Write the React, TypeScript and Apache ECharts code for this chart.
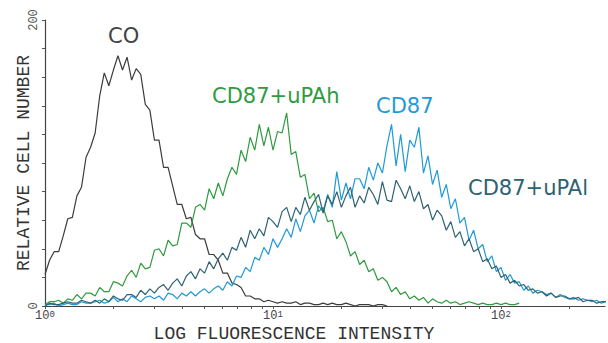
import React, { useEffect, useRef } from "react";
import * as echarts from "echarts";

// Channel spacing on the log axis (decades per channel)
const CHANNEL_DECADES = 0.02;

const xTickValues = [1, 2, 3, 4, 5, 6, 7, 8, 9, 10, 20, 30, 40, 50, 60, 70, 80, 90, 100, 200];
const xLabelValues = [1, 10, 100];
const xLabelTexts: Record<number, string> = { 1: "0", 10: "1", 100: "2" };
const yLabelValues = [0, 200];

const coCounts = [
  22, 32, 38, 38, 49, 61, 62, 77, 83, 104, 111, 121, 147, 163, 154, 165, 175, 165, 174, 158,
  166, 162, 141, 137, 116, 116, 97, 97, 84, 71, 71, 61, 62, 50, 47, 47, 36, 36, 32, 23,
  23, 16, 15, 13, 7, 7, 5, 5, 3, 4, 3, 2, 3, 2, 2, 3, 1, 2, 2, 1,
  1, 2, 1, 2, 1, 1, 2, 1, 0, 1, 1, 1, 0, 1, 1, 0,
];

const uPAhCounts = [
  1, 3, 3, 4, 2, 5, 4, 8, 5, 9, 9, 7, 13, 10, 10, 17, 16, 14, 21, 25,
  20, 30, 26, 27, 39, 40, 35, 46, 42, 43, 58, 58, 55, 69, 71, 67, 82, 75, 86, 77,
  89, 97, 92, 109, 101, 118, 109, 127, 112, 125, 109, 122, 121, 135, 106, 108, 90, 92, 75, 79,
  66, 69, 59, 60, 47, 52, 45, 35, 38, 29, 32, 24, 26, 18, 20, 17, 10, 13, 8, 10,
  5, 7, 4, 6, 2, 5, 3, 2, 4, 2, 3, 1, 2, 3, 2, 1, 2, 1, 1, 2,
  1, 2, 1, 1, 2,
];

const cd87Counts = [
  1, 1, 2, 0, 1, 2, 1, 1, 3, 2, 2, 3, 4, 2, 3, 6, 3, 5, 3, 7,
  5, 3, 6, 7, 5, 7, 4, 9, 8, 5, 9, 7, 10, 7, 10, 12, 9, 12, 14, 11,
  17, 14, 21, 20, 27, 24, 34, 32, 41, 36, 47, 41, 47, 54, 48, 61, 52, 63, 67, 58,
  70, 66, 78, 69, 94, 74, 86, 75, 89, 89, 82, 97, 88, 100, 93, 112, 127, 98, 120, 94,
  116, 111, 125, 93, 105, 85, 95, 76, 85, 68, 75, 58, 62, 46, 53, 40, 43, 31, 35, 24,
  27, 18, 22, 16, 17, 11, 14, 9, 11, 10, 8, 9, 6, 8, 6, 5, 6, 4, 5, 4,
  3, 4, 2, 3,
];

const uPAlCounts = [
  0, 2, 1, 1, 2, 3, 2, 2, 4, 3, 2, 4, 2, 5, 3, 7, 5, 4, 8, 8,
  6, 11, 8, 12, 9, 13, 15, 11, 16, 19, 14, 21, 24, 19, 26, 23, 31, 26, 33, 37,
  32, 41, 39, 48, 41, 53, 47, 54, 49, 62, 59, 55, 66, 69, 59, 69, 64, 76, 67, 73,
  78, 65, 77, 71, 80, 69, 77, 83, 69, 77, 72, 83, 78, 71, 87, 74, 73, 88, 82, 75,
  84, 73, 80, 68, 71, 60, 67, 63, 53, 59, 48, 52, 42, 47, 38, 40, 31, 33, 26, 28,
  20, 22, 16, 18, 14, 15, 11, 12, 9, 10, 7, 9, 6, 7, 7, 5, 5, 6, 3, 4,
  4, 2, 3, 3,
];

const seriesNames = ["CO", "CD87+uPAh", "CD87", "CD87+uPAl"];
const seriesColors = ["#3c3c3c", "#2f9b3f", "#1f9ad6", "#2e6270"];

const toPairs = (counts: number[]) =>
  counts.map((v, i) => [Math.pow(10, i * CHANNEL_DECADES), v]);

export default function App() {
  const ref = useRef<HTMLDivElement>(null);

  useEffect(() => {
    document.body.style.margin = "0";
    if (!ref.current) return;
    const chart = echarts.init(ref.current, undefined, { renderer: "svg" });
    const allCounts = [coCounts, uPAhCounts, cd87Counts, uPAlCounts];

    const labelFont = "DejaVu Sans";
    chart.setOption({
      animation: false,
      backgroundColor: "#ffffff",
      grid: { left: 45, right: 3, top: 20, bottom: 37 },
      xAxis: {
        type: "log",
        logBase: 10,
        min: 1,
        max: 286,
        axisLine: { show: true, lineStyle: { color: "#444", width: 1.2 } },
        axisTick: {
          show: true,
          customValues: xTickValues,
          length: 3,
          lineStyle: { color: "#555" },
        },
        axisLabel: {
          customValues: xLabelValues,
          margin: 4,
          formatter: (v: number) => `{b|10}{s|${xLabelTexts[Math.round(v)] ?? ""}}`,
          rich: {
            b: { fontFamily: "Liberation Mono", fontSize: 12, color: "#444", lineHeight: 12 },
            s: { fontFamily: "Liberation Mono", fontSize: 9, color: "#444", verticalAlign: "top", lineHeight: 12, padding: [0, 0, 4, 0] },
          },
        },
        splitLine: { show: false },
      },
      yAxis: {
        type: "value",
        min: 0,
        max: 200,
        interval: 20,
        name: "RELATIVE CELL NUMBER",
        nameLocation: "middle",
        nameGap: 12,
        nameMoveOverlap: false,
        nameRotate: 90,
        nameTextStyle: { fontFamily: "Liberation Mono", fontSize: 18, color: "#333" },
        axisLine: { show: true, lineStyle: { color: "#444", width: 1.2 } },
        axisTick: { show: true, length: 3, lineStyle: { color: "#555" } },
        axisLabel: {
          customValues: yLabelValues,
          rotate: 90,
          margin: 5,
          fontFamily: "Liberation Mono",
          fontSize: 12,
          color: "#555",
        },
        splitLine: { show: false },
      },
      series: allCounts.map((counts, k) => ({
        name: seriesNames[k],
        type: "line",
        data: toPairs(counts),
        showSymbol: false,
        symbol: "none",
        lineStyle: { color: seriesColors[k], width: 1.2 },
        z: 2 + k,
      })),
      graphic: [
        {
          type: "text",
          x: 108,
          y: 36,
          style: { text: "CO", font: `21px ${labelFont}`, fill: "#444", align: "left", verticalAlign: "middle" },
        },
        {
          type: "text",
          x: 212,
          y: 96,
          style: { text: "CD87+uPAh", font: `21px ${labelFont}`, fill: seriesColors[1], align: "left", verticalAlign: "middle" },
        },
        {
          type: "text",
          x: 376,
          y: 106,
          style: { text: "CD87", font: `21px ${labelFont}`, fill: seriesColors[2], align: "left", verticalAlign: "middle" },
        },
        {
          type: "text",
          x: 468,
          y: 188,
          style: { text: "CD87+uPAl", font: `21px ${labelFont}`, fill: seriesColors[3], align: "left", verticalAlign: "middle" },
        },
        {
          type: "text",
          x: 294,
          y: 334,
          style: {
            text: "LOG FLUORESCENCE INTENSITY",
            font: "18px Liberation Mono",
            fill: "#333",
            align: "center",
            verticalAlign: "middle",
          },
        },
      ],
    });

    return () => chart.dispose();
  }, []);

  return <div ref={ref} style={{ width: 608, height: 343 }} />;
}
